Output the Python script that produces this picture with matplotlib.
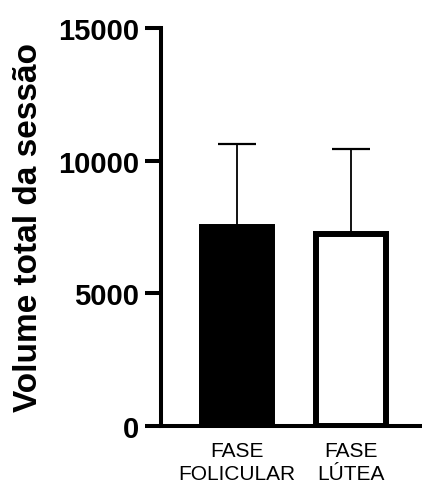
import matplotlib.pyplot as plt

plt.rcParams['font.family'] = ['Liberation Sans', 'DejaVu Sans']

categories = ['FASE\nFOLICULAR', 'FASE\nLÚTEA']
means = [7490, 7226]
sd_upper = [3140, 3204]
fill_colors = ['black', 'white']

fig = plt.figure(figsize=(4.22, 4.89), dpi=100)
ax = fig.add_axes([0.3815, 0.1268, 0.6135, 0.8139])

x = list(range(len(categories)))
# barras de erro só para cima, atrás das barras
ax.errorbar(x, means, yerr=[[0] * len(means), sd_upper], fmt='none',
            ecolor='black', elinewidth=1.3, capsize=13.5, capthick=1.6, zorder=1)
ax.bar(x, means, width=0.617, color=fill_colors, edgecolor='black',
       linewidth=4.3, zorder=2)

ax.set_xlim(-0.67, 1.61)
ax.set_ylim(0, 15000)
ax.set_yticks([0, 5000, 10000, 15000])
ax.set_xticks(x)
ax.set_xticklabels(categories, fontsize=15, linespacing=1.25)

for lbl in ax.get_yticklabels():
    lbl.set_fontweight('bold')
    lbl.set_fontsize(21)

ax.set_ylabel('Volume total da sessão', fontsize=24, fontweight='bold', labelpad=10)

ax.spines['top'].set_visible(False)
ax.spines['right'].set_visible(False)
ax.spines['left'].set_linewidth(2.9)
ax.spines['bottom'].set_linewidth(2.9)
ax.tick_params(axis='y', length=11.5, width=2.9, pad=4)
ax.tick_params(axis='x', length=0, pad=11)

fig.savefig('out.png', dpi=100)
